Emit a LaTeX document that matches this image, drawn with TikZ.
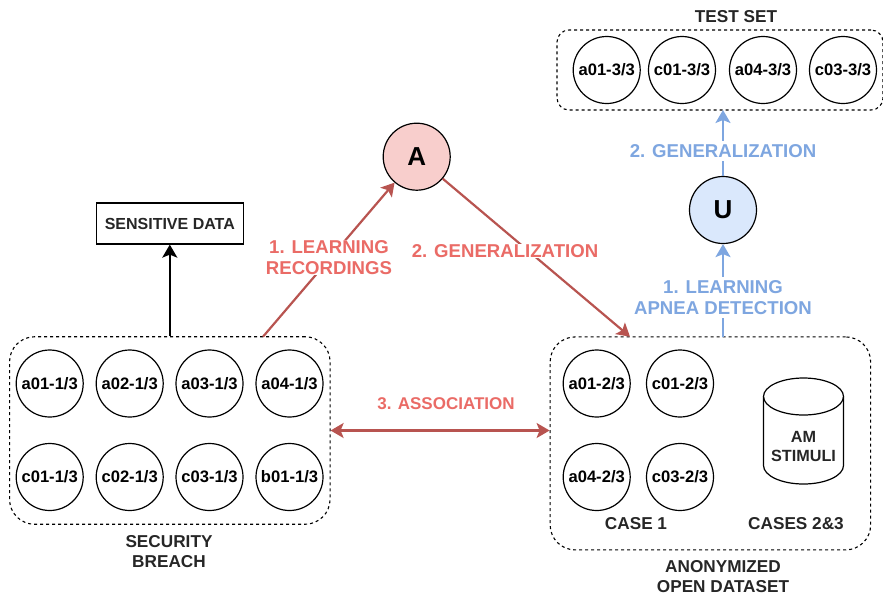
\documentclass[tikz,border=0pt]{standalone}
\usepackage{fontspec}
\setmainfont{Liberation Sans}
\usetikzlibrary{arrows.meta}
\definecolor{redline}{HTML}{B85450}
\definecolor{redtext}{HTML}{EA6B66}
\definecolor{redfill}{HTML}{F8CECC}
\definecolor{bluetext}{HTML}{7EA6E0}
\definecolor{bluefill}{HTML}{DAE8FC}
\tikzset{
    txt/.style={font=\fontsize{17.2}{20}\selectfont\bfseries,text=black!85,align=center,inner sep=0pt},
    rec/.style={draw,circle,line width=1.2pt,minimum size=67pt,inner sep=0pt,font=\fontsize{16.6}{20}\selectfont\bfseries},
    agent/.style={rec,font=\fontsize{26}{30}\selectfont\bfseries},
    group/.style={draw,rounded corners=#1,dash pattern=on 3pt off 3pt,line width=1.1pt,inner sep=0pt},
    redlbl/.style={font=\fontsize{18.6}{21}\selectfont\bfseries,text=redtext,align=center,fill=white,inner xsep=1pt,inner ysep=0pt},
    bluelbl/.style={font=\fontsize{18.6}{21}\selectfont\bfseries,text=bluetext,align=center,fill=white,inner xsep=1pt,inner ysep=3pt},
    redarr/.style={draw=redline,line width=2.2pt,-{Stealth[length=13pt,width=15pt,inset=3pt]}},
    bluearr/.style={draw=bluetext,line width=2.2pt,-{Stealth[length=13pt,width=15pt,inset=3pt]}},
}
\begin{document}
\begin{tikzpicture}[x=1pt,y=-1pt]
    \useasboundingbox (0,0) rectangle (883,595);
    % groups
    \node[group=25pt,minimum width=320.5pt,minimum height=187.5pt] (breach) at (169.8,430.5) {};
    \node[group=25pt,minimum width=320.5pt,minimum height=213pt] (open) at (710.4,443.4) {};
    \node[group=12pt,minimum width=326pt,minimum height=80pt] (test) at (720,70) {};
    % security breach recordings
    \node[rec] (a01p1) at (49.7,383.5) {a01-1/3};
    \node[rec] (a02p1) at (129.7,383.5) {a02-1/3};
    \node[rec] (a03p1) at (209.5,383.5) {a03-1/3};
    \node[rec] (a04p1) at (289.5,383.5) {a04-1/3};
    \node[rec] (c01p1) at (49.7,477) {c01-1/3};
    \node[rec] (c02p1) at (129.7,477) {c02-1/3};
    \node[rec] (c03p1) at (209.5,477) {c03-1/3};
    \node[rec] (b01p1) at (289.5,477) {b01-1/3};
    % anonymized recordings
    \node[rec] (a01p2) at (596.7,383.5) {a01-2/3};
    \node[rec] (c01p2) at (680,383.5) {c01-2/3};
    \node[rec] (a04p2) at (596.7,477) {a04-2/3};
    \node[rec] (c03p2) at (680,477) {c03-2/3};
    % cylinder
    \draw[line width=1.2pt] (803.5,396.5) ellipse[x radius=40pt,y radius=18.5pt];
    \draw[line width=1.2pt] (763.5,396.5) -- (763.5,465.5) arc[start angle=180,end angle=360,x radius=40pt,y radius=18.5pt] -- (843.5,396.5);
    \node[txt,font=\fontsize{16.2}{19}\selectfont\bfseries] (stimuli) at (803.5,446.5) {AM\\STIMULI};
    % test set recordings
    \node[rec] (a01p3) at (606.7,70) {a01-3/3};
    \node[rec] (c01p3) at (682,70) {c01-3/3};
    \node[rec] (a04p3) at (763,70) {a04-3/3};
    \node[rec] (c03p3) at (843,70) {c03-3/3};
    % agents
    \node[agent,fill=redfill] (A) at (416.7,156.7) {A};
    \node[agent,fill=bluefill] (U) at (723,210) {U};
    \node[draw,line width=1.2pt,minimum width=147pt,minimum height=41pt,txt,font=\fontsize{16}{20}\selectfont\bfseries] (sensitive) at (169.8,223.5) {SENSITIVE DATA};
    % connectors
    \coordinate (breachout) at (263,336.7);
    \coordinate (openin) at (630,336.7);
    \coordinate (openout) at (723,336.7);
    \coordinate (testin) at (723,110);
    \draw[line width=2.2pt,-{Stealth[length=13pt,width=15pt,inset=3pt]}] (breach.north) -- (sensitive.south);
    \draw[redarr] (breachout) -- (A);
    \draw[redarr] (A) -- (openin);
    \draw[redarr,{Stealth[length=13pt,width=15pt,inset=3pt]}-{Stealth[length=13pt,width=15pt,inset=3pt]}] (breach.east) -- (breach.east -| open.west);
    \draw[bluearr] (openout) -- (U);
    \draw[bluearr] (U) -- (testin);
    % labels
    \node[redlbl] (learnred) at (329,257.5) {1. LEARNING\\RECORDINGS};
    \node[redlbl] (genred) at (505,251) {2. GENERALIZATION};
    \node[redlbl,font=\fontsize{17}{21}\selectfont\bfseries] (assoc) at (446,404) {3. ASSOCIATION};
    \node[bluelbl] (learnblue) at (723,297.5) {1. LEARNING\\APNEA DETECTION};
    \node[bluelbl] (genblue) at (723,151) {2. GENERALIZATION};
    \node[txt] (testlbl) at (736,17) {TEST SET};
    \node[txt] (breachlbl) at (169,551.5) {SECURITY\\BREACH};
    \node[txt] (openlbl) at (723,576.5) {ANONYMIZED\\OPEN DATASET};
    \node[txt] (caseone) at (636,524) {CASE 1};
    \node[txt] (casetwo) at (796,524) {CASES 2\&3};
\end{tikzpicture}
\end{document}
